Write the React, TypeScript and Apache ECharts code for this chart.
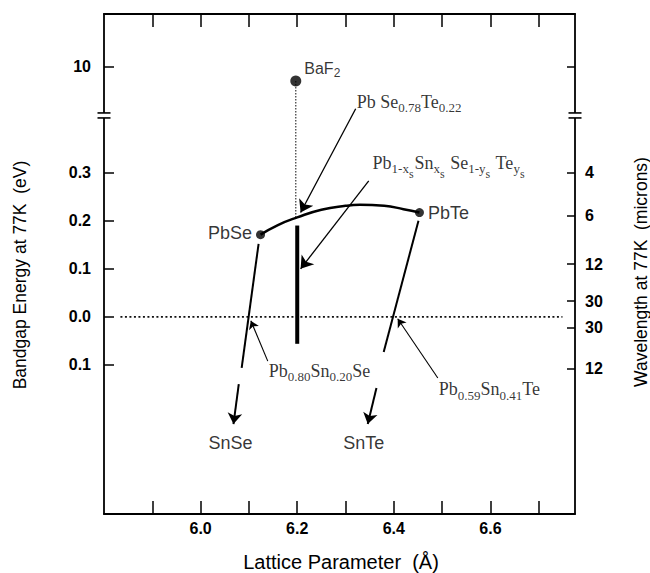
import React, { useEffect, useRef } from "react";
import * as echarts from "echarts";

// ---- axis break mapping (energy in eV -> axis units) ----
const BREAK_U = 0.419;
const UPPER_E0 = 7.6;
const UPPER_SCALE = 0.0421;
const toU = (e: number) => (e > BREAK_U ? BREAK_U + (e - UPPER_E0) * UPPER_SCALE : e);

// ---- axes ----
const xMin = 5.8;
const xMax = 6.775;
const yMin = -0.41;
const yMax = 0.63;
const xTickValues = [5.9, 6.0, 6.1, 6.2, 6.3, 6.4, 6.5, 6.6, 6.7];
const xLabelValues = [6.0, 6.2, 6.4, 6.6];
const energyTickValues = [10, 0.3, 0.2, 0.1, 0.0, -0.1];
const energyTickLabels = ["10", "0.3", "0.2", "0.1", "0.0", "0.1"];
const wavelengthLabels = ["4", "6", "12", "30", "30", "12"];
const wavelengthTickEnergies = [0.3, 0.21, 0.11, 0.033, -0.023, -0.108];

// ---- binary compounds (lattice Å, gap eV) ----
const compoundNames = ["BaF2", "PbSe", "PbTe"];
const compoundLattice = [6.197, 6.124, 6.453];
const compoundGap = [9.3, 0.171, 0.217];

// ---- PbSe–PbTe alloy curve ----
const alloyLattice = [6.124, 6.16, 6.2, 6.25, 6.3, 6.33, 6.38, 6.42, 6.453];
const alloyGap = [0.171, 0.191, 0.207, 0.223, 0.231, 0.233, 0.231, 0.224, 0.217];

// ---- lattice-matched composition line (a = 6.2 Å) ----
const matchedLattice = [6.2, 6.2];
const matchedGap = [0.19, -0.056];

// ---- extrapolation towards SnSe / SnTe ----
const snSeLineLattice = [6.12, 6.085];
const snSeLineGap = [0.152, -0.106];
const snSeArrowLattice = [6.079, 6.068];
const snSeArrowGap = [-0.14, -0.223];
const snTeLineLattice = [6.451, 6.379];
const snTeLineGap = [0.2, -0.073];
const snTeArrowLattice = [6.364, 6.346];
const snTeArrowGap = [-0.148, -0.223];

// ---- zero-gap line ----
const zeroLineLattice = [5.834, 6.749];

// ---- annotation text anchors and pointers ----
const annTexts = [
  "Pb Se{s|0.78}Te{s|0.22}",
  "Pb{s|1-x}{ss|s}Sn{s|x}{ss|s} Se{s|1-y}{ss|s} Te{s|y}{ss|s}",
  "Pb{s|0.80}Sn{s|0.20}Se",
  "Pb{s|0.59}Sn{s|0.41}Te",
];
const annLattice = [6.323, 6.356, 6.141, 6.493];
const annU = [0.448, 0.321, -0.1125, -0.15];
const pointerFrom = [
  [6.321, 0.433],
  [6.348, 0.283],
  [6.139, -0.092],
  [6.491, -0.127],
];
const pointerTo = [
  [6.207, 0.217],
  [6.207, 0.1],
  [6.104, -0.008],
  [6.408, -0.004],
];
const endNames = ["SnSe", "SnTe"];
const endLattice = [6.062, 6.3375];
const endU = [-0.2625, -0.2625];

const SANS = "'Liberation Sans', Arial, sans-serif";
const SERIF = "'Liberation Serif', 'Times New Roman', serif";

function nearestIndex(arr: number[], v: number) {
  let best = 0;
  for (let i = 1; i < arr.length; i++) {
    if (Math.abs(arr[i] - v) < Math.abs(arr[best] - v)) best = i;
  }
  return best;
}

export default function App() {
  const ref = useRef<HTMLDivElement>(null);

  useEffect(() => {
    if (!ref.current) return;
    const chart = echarts.init(ref.current, null, { renderer: "svg" });

    const energyU = energyTickValues.map(toU);
    const axisLineStyle = { color: "#000", width: 1.8 };
    const tickLabelStyle = {
      color: "#000",
      fontFamily: SANS,
      fontSize: 16,
      fontWeight: "bold" as const,
    };

    const serifRich = {
      s: { fontFamily: SERIF, fontSize: 13, color: "#000", padding: [12, 0, 0, 0] },
      ss: { fontFamily: SERIF, fontSize: 12, color: "#000", padding: [22, 1, 0, 0] },
    };

    const option: any = {
      animation: false,
      backgroundColor: "#fff",
      grid: { left: 104, right: 75, top: 14, bottom: 59, containLabel: false },
      xAxis: [
        {
          type: "value",
          position: "bottom",
          min: xMin,
          max: xMax,
          axisLine: { show: true, onZero: false, lineStyle: axisLineStyle },
          axisTick: {
            show: true,
            inside: true,
            length: 13,
            customValues: xTickValues,
            lineStyle: { color: "#000", width: 1.5 },
          },
          axisLabel: {
            customValues: xLabelValues,
            formatter: (v: number) => v.toFixed(1),
            margin: 6,
            ...tickLabelStyle,
          },
          splitLine: { show: false },
        },
        {
          type: "value",
          position: "top",
          min: xMin,
          max: xMax,
          axisLine: { show: true, onZero: false, lineStyle: axisLineStyle },
          axisTick: {
            show: true,
            inside: true,
            length: 13,
            customValues: xTickValues,
            lineStyle: { color: "#000", width: 1.5 },
          },
          axisLabel: { show: false },
          splitLine: { show: false },
        },
      ],
      yAxis: [
        {
          type: "value",
          position: "left",
          min: yMin,
          max: yMax,
          axisLine: { show: true, onZero: false, lineStyle: axisLineStyle },
          axisTick: {
            show: true,
            inside: true,
            length: 10,
            customValues: energyU,
            lineStyle: { color: "#000", width: 1.5 },
          },
          axisLabel: {
            customValues: energyU,
            formatter: (v: number) => energyTickLabels[nearestIndex(energyU, v)],
            margin: 13,
            ...tickLabelStyle,
          },
          splitLine: { show: false },
        },
        {
          type: "value",
          position: "right",
          min: yMin,
          max: yMax,
          axisLine: { show: true, onZero: false, lineStyle: axisLineStyle },
          axisTick: {
            show: true,
            inside: true,
            length: 8,
            customValues: [toU(10), ...wavelengthTickEnergies],
            lineStyle: { color: "#000", width: 1.5 },
          },
          axisLabel: {
            customValues: wavelengthTickEnergies,
            formatter: (v: number) =>
              wavelengthLabels[nearestIndex(wavelengthTickEnergies, v)],
            margin: 10,
            ...tickLabelStyle,
          },
          splitLine: { show: false },
        },
      ],
      series: [
        {
          name: "zero",
          type: "line",
          data: zeroLineLattice.map((x) => [x, 0]),
          symbol: "none",
          lineStyle: { color: "#111", width: 1.6, type: [2, 2.5] },
          z: 2,
        },
        {
          name: "BaF2 drop",
          type: "line",
          data: [
            [compoundLattice[0], toU(compoundGap[0])],
            [compoundLattice[0], alloyGap[2]],
          ],
          symbol: "none",
          lineStyle: { color: "#333", width: 1.2, type: [1.5, 1.5] },
          z: 2,
        },
        {
          name: "alloy",
          type: "line",
          data: alloyLattice.map((x, i) => [x, alloyGap[i]]),
          smooth: 0.5,
          symbol: "none",
          lineStyle: { color: "#000", width: 2.5 },
          z: 3,
        },
        {
          name: "matched",
          type: "line",
          data: matchedLattice.map((x, i) => [x, matchedGap[i]]),
          symbol: "none",
          lineStyle: { color: "#000", width: 4 },
          z: 3,
        },
        {
          name: "to SnSe",
          type: "line",
          data: snSeLineLattice.map((x, i) => [x, snSeLineGap[i]]),
          symbol: "none",
          lineStyle: { color: "#000", width: 2 },
          z: 3,
        },
        {
          name: "to SnTe",
          type: "line",
          data: snTeLineLattice.map((x, i) => [x, snTeLineGap[i]]),
          symbol: "none",
          lineStyle: { color: "#000", width: 2 },
          z: 3,
        },
        {
          name: "extrapolation arrows",
          type: "lines",
          coordinateSystem: "cartesian2d",
          symbol: ["none", "arrow"],
          symbolSize: 11,
          lineStyle: { color: "#000", width: 2, opacity: 1 },
          data: [
            { coords: snSeArrowLattice.map((x, i) => [x, snSeArrowGap[i]]) },
            { coords: snTeArrowLattice.map((x, i) => [x, snTeArrowGap[i]]) },
          ],
          z: 4,
        },
        {
          name: "pointers big",
          type: "lines",
          coordinateSystem: "cartesian2d",
          symbol: ["none", "arrow"],
          symbolSize: 12,
          lineStyle: { color: "#000", width: 1.3, opacity: 1 },
          data: [0, 1].map((i) => ({ coords: [pointerFrom[i], pointerTo[i]] })),
          z: 4,
        },
        {
          name: "pointers small",
          type: "lines",
          coordinateSystem: "cartesian2d",
          symbol: ["none", "arrow"],
          symbolSize: 8,
          lineStyle: { color: "#000", width: 1.1, opacity: 1 },
          data: [2, 3].map((i) => ({ coords: [pointerFrom[i], pointerTo[i]] })),
          z: 4,
        },
        {
          name: "compounds",
          type: "scatter",
          symbol: "circle",
          itemStyle: { color: "#000" },
          z: 5,
          data: compoundNames.map((n, i) => {
            const pos = i === 1 ? "left" : "right";
            const text = n === "BaF2" ? "BaF{s|2}" : n;
            return {
              name: n,
              value: [compoundLattice[i], toU(compoundGap[i])],
              symbolSize: i === 0 ? 11 : 9,
              label: {
                show: true,
                position: pos,
                distance: i === 0 ? 3 : 4,
                offset: i === 0 ? [0, -13] : i === 1 ? [0, -2] : [0, 0],
                formatter: text,
                color: "#000",
                fontFamily: SANS,
                fontSize: i === 0 ? 16 : 18,
                rich: {
                  s: { fontFamily: SANS, fontSize: 12, color: "#000", padding: [10, 0, 0, 0] },
                },
              },
            };
          }),
        },
        {
          name: "end members",
          type: "scatter",
          symbolSize: 0,
          itemStyle: { color: "transparent" },
          z: 5,
          data: endNames.map((n, i) => ({
            name: n,
            value: [endLattice[i], endU[i]],
            label: {
              show: true,
              position: "inside",
              formatter: n,
              color: "#000",
              fontFamily: SANS,
              fontSize: 18,
            },
          })),
        },
        {
          name: "annotations",
          type: "scatter",
          symbolSize: 0,
          itemStyle: { color: "transparent" },
          z: 5,
          data: annTexts.map((t, i) => ({
            value: [annLattice[i], annU[i]],
            label: {
              show: true,
              position: "right",
              distance: 0,
              formatter: t,
              color: "#000",
              fontFamily: SERIF,
              fontSize: 18,
              rich: serifRich,
            },
          })),
        },
      ],
    };

    chart.setOption(option);

    const yb = chart.convertToPixel({ yAxisIndex: 0 }, BREAK_U) as number;
    const xl = chart.convertToPixel({ xAxisIndex: 0 }, xMin) as number;
    const xr = chart.convertToPixel({ xAxisIndex: 0 }, xMax) as number;
    const breakMark = (x: number, id: string) => ({
      type: "group",
      id,
      children: [
        {
          type: "rect",
          shape: { x: x - 4, y: yb - 2.5, width: 8, height: 5 },
          style: { fill: "#fff" },
          z: 100,
        },
        {
          type: "line",
          shape: { x1: x - 6.5, y1: yb - 2.5, x2: x + 6.5, y2: yb - 2.5 },
          style: { stroke: "#000", lineWidth: 1.6 },
          z: 101,
        },
        {
          type: "line",
          shape: { x1: x - 6.5, y1: yb + 2.5, x2: x + 6.5, y2: yb + 2.5 },
          style: { stroke: "#000", lineWidth: 1.6 },
          z: 101,
        },
      ],
    });

    chart.setOption({
      graphic: [
        breakMark(xl, "breakL"),
        breakMark(xr, "breakR"),
        {
          type: "text",
          id: "xTitle",
          x: 341,
          y: 562,
          style: {
            text: "Lattice Parameter  (Å)",
            fill: "#000",
            font: `20px ${SANS}`,
            align: "center",
            verticalAlign: "middle",
          },
        },
        {
          type: "text",
          id: "yTitle",
          x: 20,
          y: 275,
          rotation: Math.PI / 2,
          style: {
            text: "Bandgap Energy at 77K  (eV)",
            fill: "#000",
            font: `17.5px ${SANS}`,
            align: "center",
            verticalAlign: "middle",
          },
        },
        {
          type: "text",
          id: "y2Title",
          x: 641,
          y: 272,
          rotation: Math.PI / 2,
          style: {
            text: "Wavelength at 77K  (microns)",
            fill: "#000",
            font: `17.5px ${SANS}`,
            align: "center",
            verticalAlign: "middle",
          },
        },
      ],
    });

    return () => chart.dispose();
  }, []);

  return (
    <div
      ref={ref}
      style={{ position: "fixed", left: 0, top: 0, width: 650, height: 573 }}
    />
  );
}
